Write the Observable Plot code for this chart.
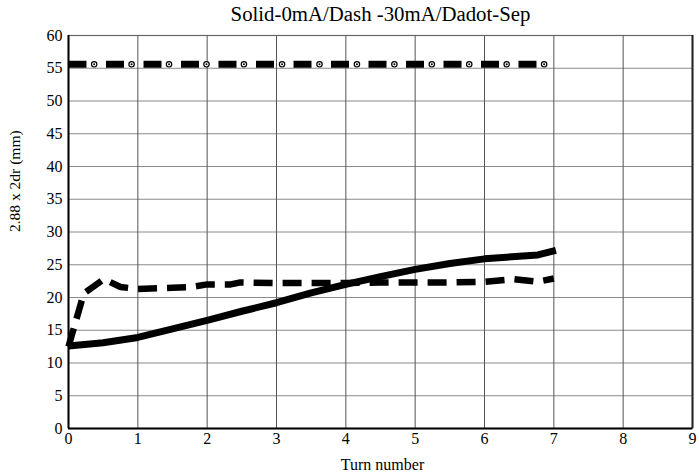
<!DOCTYPE html>
<html><head><meta charset="utf-8">
<script src="https://cdn.jsdelivr.net/npm/d3@7"></script>
<script src="https://cdn.jsdelivr.net/npm/@observablehq/plot@0.6"></script>
<style>
body{margin:0;background:#fff;}
svg{display:block;}
svg text{font-family:"Liberation Serif","Times New Roman","DejaVu Serif",serif !important;}
</style>
</head><body><div id="chart"></div>
<script>
const titleText = "Solid-0mA/Dash -30mA/Dadot-Sep";
const xLabel = "Turn number";
const yLabel = "2.88 x 2dr (mm)";
const xTicks = [0,1,2,3,4,5,6,7,8,9];
const yTicks = [0,5,10,15,20,25,30,35,40,45,50,55,60];

// Solid: 0 mA
const solidX = [0, 0.5, 1, 1.5, 2, 2.5, 3, 3.5, 4, 4.5, 5, 5.5, 6, 6.5, 6.77, 7.03];
const solidY = [12.6, 13.1, 13.9, 15.2, 16.5, 17.9, 19.2, 20.7, 22.0, 23.2, 24.3, 25.2, 25.9, 26.3, 26.5, 27.2];

// Dash: -30 mA
const dashX = [0, 0.22, 0.51, 0.75, 1.0, 1.5, 1.76, 2.0, 2.34, 2.48, 3.0, 3.5, 4.0, 4.5, 5.0, 5.5, 6.0, 6.42, 6.77, 7.0];
const dashY = [12.5, 20.6, 22.8, 21.6, 21.3, 21.5, 21.6, 22.0, 22.0, 22.3, 22.2, 22.2, 22.2, 22.3, 22.3, 22.3, 22.4, 22.8, 22.4, 22.9];

// Dadot: Sep
const sepX = [0, 6.9];
const sepY = [55.6, 55.6];
const sepMarkX = [0.37, 0.91, 1.45, 1.99, 2.53, 3.08, 3.62, 4.16, 4.70, 5.24, 5.78, 6.32, 6.86];
const sepMarkY = [55.6, 55.6, 55.6, 55.6, 55.6, 55.6, 55.6, 55.6, 55.6, 55.6, 55.6, 55.6, 55.6];

const solid = solidX.map((x, i) => ({x, y: solidY[i]}));
const dash = dashX.map((x, i) => ({x, y: dashY[i]}));
const sep = sepX.map((x, i) => ({x, y: sepY[i]}));
const sepMarks = sepMarkX.map((x, i) => ({x, y: sepMarkY[i]}));

const font = "Liberation Serif";

const chart = Plot.plot({
  width: 699,
  height: 474,
  marginTop: 35,
  marginLeft: 68,
  marginRight: 7,
  marginBottom: 46,
  style: {background: "#fff", color: "#000"},
  x: {domain: [0, 9], ticks: xTicks, tickSize: 0, label: null},
  y: {domain: [0, 60], ticks: yTicks, tickSize: 0, label: null},
  marks: [
    Plot.ruleY(yTicks.filter(d => d > 0 && d < 60), {stroke: "#8a8a8a", strokeWidth: 1}),
    Plot.ruleX(xTicks.filter(d => d > 0 && d < 9), {stroke: "#555", strokeWidth: 1}),
    Plot.frame({stroke: "#666", strokeWidth: 1.2}),
    Plot.ruleX([0], {stroke: "#000", strokeWidth: 2}),
    Plot.ruleX([9], {stroke: "#222", strokeWidth: 2}),
    Plot.ruleY([0], {stroke: "#000", strokeWidth: 2}),
    Plot.axisX({ticks: xTicks, tickSize: 0, tickPadding: 4, fontSize: 16, fontFamily: font, fill: "#000", label: null}),
    Plot.axisY({ticks: yTicks, tickSize: 0, tickPadding: 6, fontSize: 16, fontFamily: font, fill: "#000", label: null}),
    Plot.line(sep, {x: "x", y: "y", stroke: "#000", strokeWidth: 7, strokeDasharray: "18,19.5", strokeLinecap: "butt"}),
    Plot.dot(sepMarks, {x: "x", y: "y", r: 2.7, stroke: "#000", strokeWidth: 1.2, fill: "#fff"}),
    Plot.dot(sepMarks, {x: "x", y: "y", r: 1, fill: "#000"}),
    Plot.line(dash, {x: "x", y: "y", stroke: "#000", strokeWidth: 6.5, strokeDasharray: "19,10", strokeLinecap: "butt", strokeLinejoin: "miter"}),
    Plot.line(solid, {x: "x", y: "y", stroke: "#000", strokeWidth: 7, strokeLinecap: "butt", strokeLinejoin: "round"}),
    Plot.text([titleText], {frameAnchor: "top", dy: -21, dx: 0, fontSize: 20.8, fontFamily: font, fill: "#000", lineAnchor: "middle"}),
    Plot.text([xLabel], {frameAnchor: "bottom", dy: 36, dx: 2, fontSize: 16, fontFamily: font, fill: "#000", lineAnchor: "middle"}),
    Plot.text([yLabel], {frameAnchor: "left", dx: -53, dy: 0, rotate: -90, fontSize: 15.5, fontFamily: font, fill: "#000", lineAnchor: "middle"})
  ]
});
document.getElementById("chart").appendChild(chart);
</script>
</body></html>
